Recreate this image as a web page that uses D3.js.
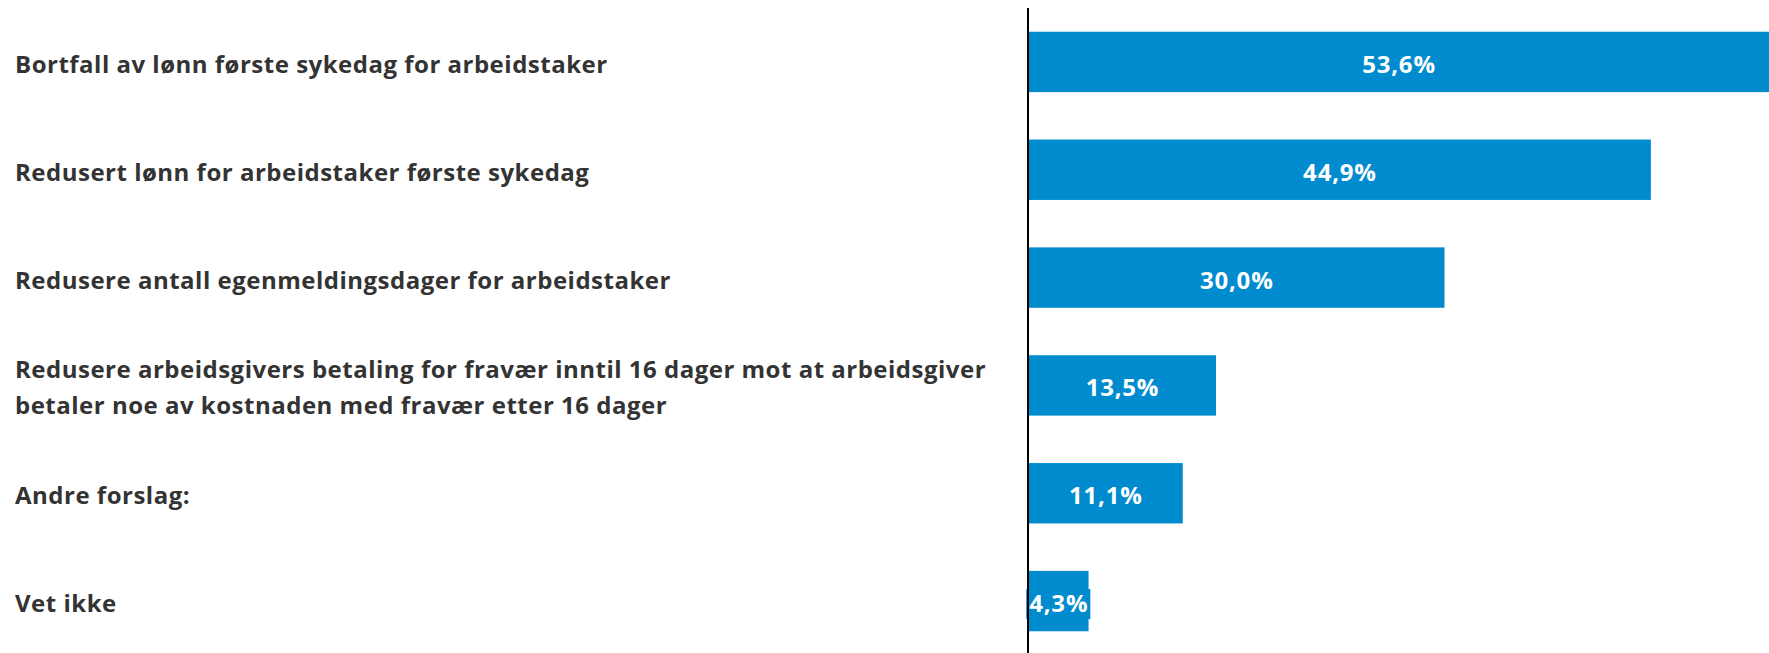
<html>
<head>
<title>d3</title>
<script src="https://d3js.org/d3.v7.min.js"></script>
<style>
  body { margin: 0; background: #fff; }
  text { font-family: "Open Sans", sans-serif; }
</style>
</head>
<body>
<svg class="bar-chart"></svg>
<script>

    var categories = [
        ["Bortfall av lønn første sykedag for arbeidstaker"],
        ["Redusert lønn for arbeidstaker første sykedag"],
        ["Redusere antall egenmeldingsdager for arbeidstaker"],
        ["Redusere arbeidsgivers betaling for fravær inntil 16 dager mot at arbeidsgiver",
         "betaler noe av kostnaden med fravær etter 16 dager"],
        ["Andre forslag:"],
        ["Vet ikke"]
    ];
    var values = [53.6, 44.9, 30.0, 13.5, 11.1, 4.3];
    var valueLabels = ["53,6%", "44,9%", "30,0%", "13,5%", "11,1%", "4,3%"];

    var svgWidth = 1769, svgHeight = 653;
    var barColor = "#008bcf";

    var svg = d3.select('svg')
        .attr('width', svgWidth)
        .attr('height', svgHeight);

    var xScale = d3.scaleLinear()
        .domain([0, 60])
        .range([1029, 1860]);

    var yScale = d3.scaleBand()
        .domain(d3.range(values.length))
        .range([8, 655])
        .paddingInner(0.44)
        .paddingOuter(0.22);

    svg.selectAll('rect.bar')
        .data(values)
        .enter()
        .append('rect')
        .attr('class', 'bar')
        .attr('x', xScale(0))
        .attr('y', function (d, i) { return yScale(i); })
        .attr('width', function (d) { return Math.min(xScale(d), svgWidth) - xScale(0); })
        .attr('height', yScale.bandwidth())
        .attr('fill', barColor);

    // category labels on the left
    var cat = svg.selectAll('text.cat')
        .data(categories)
        .enter()
        .append('text')
        .attr('class', 'cat')
        .attr('x', 15)
        .attr('y', function (d, i) { return yScale(i) + yScale.bandwidth() / 2 + 3; })
        .attr('fill', '#333333')
        .attr('font-size', 24)
        .attr('font-weight', 700)
        .attr('letter-spacing', 0.5);

    cat.selectAll('tspan')
        .data(function (d) {
            return d.map(function (t, j) { return { t: t, j: j, n: d.length }; });
        })
        .enter()
        .append('tspan')
        .attr('x', 15)
        .attr('dy', function (d) {
            return d.j === 0 ? (-(d.n - 1) * 18 + 8) : 36;
        })
        .text(function (d) { return d.t; });

    // value labels, centred on the visible part of each bar
    var lab = svg.selectAll('g.lab')
        .data(values)
        .enter()
        .append('g')
        .attr('class', 'lab');

    lab.append('text')
        .attr('x', function (d) { return (xScale(0) + Math.min(xScale(d), svgWidth)) / 2; })
        .attr('y', function (d, i) { return yScale(i) + yScale.bandwidth() / 2 + 11; })
        .attr('text-anchor', 'middle')
        .attr('fill', 'white')
        .attr('font-size', 24)
        .attr('font-weight', 700)
        .attr('letter-spacing', 0.8)
        .text(function (d, i) { return valueLabels[i]; });

    lab.each(function () {
        var g = d3.select(this);
        var b = g.select('text').node().getBBox();
        g.insert('rect', 'text')
            .attr('x', b.x - 3)
            .attr('y', b.y + 3)
            .attr('width', b.width + 5)
            .attr('height', b.height - 3)
            .attr('fill', barColor);
    });

    // vertical axis line
    svg.append('line')
        .attr('x1', xScale(0) - 1)
        .attr('x2', xScale(0) - 1)
        .attr('y1', 8)
        .attr('y2', svgHeight)
        .attr('stroke', '#000')
        .attr('stroke-width', 2);

</script>
</body>
</html>
